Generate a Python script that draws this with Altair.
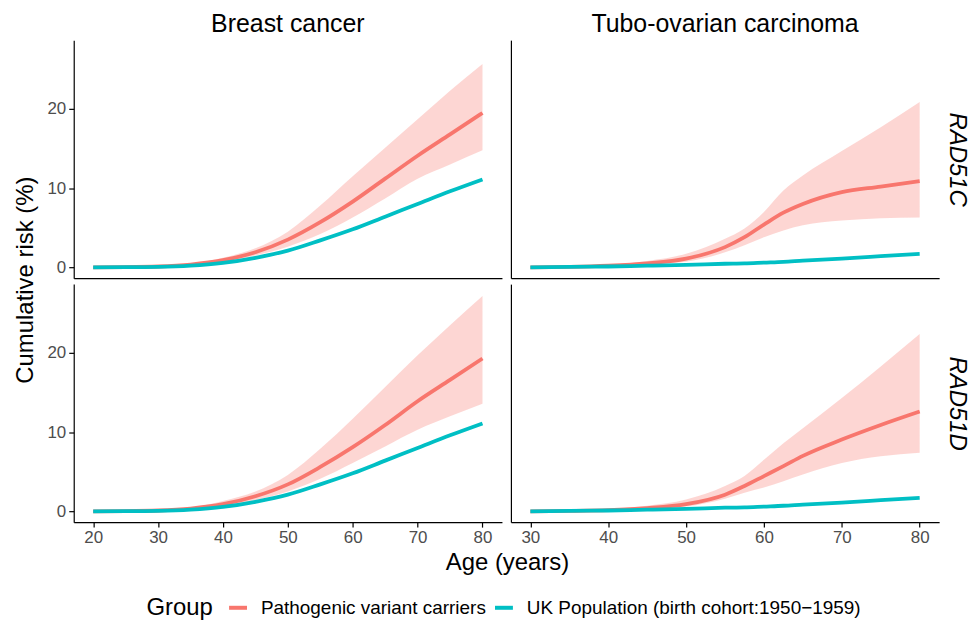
import altair as alt
import pandas as pd

# ---------------- data ----------------
ages_breast = [20, 25, 30, 35, 40, 45, 50, 55, 60, 65, 70, 75, 80]
ages_tubo = [30, 35, 40, 45, 50, 55, 57.5, 60, 62.5, 65, 70, 75, 80]

groups = ["Pathogenic variant carriers", "UK Population (birth cohort:1950\u22121959)"]
colors = ["#F8766D", "#00BFC4"]

# Breast cancer, UK population (same in both rows)
breast_pop = [0, 0.01, 0.05, 0.2, 0.55, 1.2, 2.1, 3.4, 4.8, 6.4, 8.0, 9.6, 11.1]
# Tubo-ovarian carcinoma, UK population
tubo_pop = [0, 0.05, 0.1, 0.2, 0.3, 0.45, 0.5, 0.6, 0.7, 0.85, 1.1, 1.4, 1.7]

# RAD51C - breast
bc_c_mean = [0, 0.02, 0.1, 0.35, 0.9, 1.9, 3.5, 5.7, 8.3, 11.2, 14.1, 16.8, 19.5]
bc_c_upper = [0, 0.03, 0.12, 0.45, 1.2, 2.4, 4.5, 7.8, 11.5, 15.1, 18.7, 22.3, 25.7]
bc_c_lower = [0, 0.01, 0.08, 0.28, 0.7, 1.5, 2.6, 4.2, 6.3, 8.7, 11.2, 13.0, 14.8]

# RAD51D - breast
bc_d_mean = [0, 0.02, 0.1, 0.35, 0.9, 1.9, 3.4, 5.6, 8.1, 10.9, 13.9, 16.6, 19.3]
bc_d_upper = [0, 0.03, 0.12, 0.45, 1.3, 2.5, 4.6, 7.9, 11.7, 15.7, 19.7, 23.5, 27.2]
bc_d_lower = [0, 0.01, 0.08, 0.28, 0.6, 1.4, 2.5, 4.1, 6.1, 8.2, 10.3, 12.0, 13.6]

# RAD51C - tubo-ovarian
oc_c_mean = [0, 0.05, 0.2, 0.5, 1.1, 2.55, 3.8, 5.4, 6.9, 8.0, 9.5, 10.2, 10.9]
oc_c_upper = [0, 0.08, 0.3, 0.8, 1.7, 3.6, 4.9, 7.0, 9.7, 11.6, 14.7, 17.7, 20.9]
oc_c_lower = [0, 0.03, 0.12, 0.35, 0.7, 1.9, 2.8, 3.8, 4.65, 5.3, 5.9, 6.2, 6.3]

# RAD51D - tubo-ovarian
oc_d_mean = [0, 0.05, 0.15, 0.4, 0.9, 2.1, 3.2, 4.45, 5.7, 7.0, 9.06, 10.9, 12.6]
oc_d_upper = [0, 0.08, 0.25, 0.7, 1.5, 3.2, 4.45, 6.5, 8.6, 10.5, 14.3, 18.3, 22.4]
oc_d_lower = [0, 0.03, 0.1, 0.25, 0.6, 1.6, 2.35, 3.0, 3.8, 4.65, 6.1, 6.95, 7.4]

breast_ticks = [20, 30, 40, 50, 60, 70, 80]
tubo_ticks = [30, 40, 50, 60, 70, 80]
y_ticks = [0, 10, 20]

FONT = "Liberation Sans"
W, H = 430, 239
Y_DOMAIN = [-1.37, 28.7]


def panel(ages, mean, lower, upper, pop, xdom, xticks, show_x, show_y,
          strip=None, row_label=None):
    rib = pd.DataFrame({"age": ages, "lower": lower, "upper": upper})
    n = len(ages)
    lines = pd.DataFrame({
        "age": list(ages) + list(ages),
        "risk": list(mean) + list(pop),
        "group": [groups[0]] * n + [groups[1]] * n,
    })
    xscale = alt.Scale(domain=xdom, nice=False, zero=False)
    yscale = alt.Scale(domain=Y_DOMAIN, nice=False, zero=False)
    if show_x:
        xaxis = alt.Axis(values=xticks, title=None, tickSize=5, labelPadding=2)
    else:
        xaxis = alt.Axis(labels=False, ticks=False, title=None)
    if show_y:
        yaxis = alt.Axis(values=y_ticks, title=None, tickSize=5, labelPadding=3)
    else:
        yaxis = alt.Axis(labels=False, ticks=False, title=None)

    area = alt.Chart(rib).mark_area(color="#F8766D", opacity=0.3,
                                    interpolate="monotone").encode(
        x=alt.X("age:Q", scale=xscale, axis=xaxis),
        y=alt.Y("lower:Q", scale=yscale, axis=yaxis),
        y2="upper:Q",
    )
    color = alt.Color("group:N",
                      scale=alt.Scale(domain=groups, range=colors),
                      legend=alt.Legend(title="Group"))
    if row_label:
        line_y = alt.Y("risk:Q", scale=yscale,
                       axis=alt.Axis(orient="right", labels=False, ticks=False,
                                     domain=False, title=row_label, titleAngle=90,
                                     titleFontStyle="italic", titleFontSize=24,
                                     titleFontWeight="normal", titleColor="black",
                                     titlePadding=5))
    else:
        line_y = alt.Y("risk:Q", scale=yscale, axis=yaxis)
    line = alt.Chart(lines).mark_line(strokeWidth=3.8, interpolate="monotone").encode(
        x=alt.X("age:Q", scale=xscale, axis=xaxis),
        y=line_y,
        color=color,
    )
    ch = alt.layer(area, line).properties(width=W, height=H)
    if row_label:
        ch = ch.resolve_scale(y="independent").resolve_axis(y="independent")
    if strip:
        ch = ch.properties(title=alt.TitleParams(strip, fontSize=25, fontWeight="normal",
                                                 anchor="middle", offset=3, color="black"))
    return ch


tl = panel(ages_breast, bc_c_mean, bc_c_lower, bc_c_upper, breast_pop,
           [17, 83], breast_ticks, False, True, strip="Breast cancer")
tr = panel(ages_tubo, oc_c_mean, oc_c_lower, oc_c_upper, tubo_pop,
           [27.5, 82.5], tubo_ticks, False, False, strip="Tubo-ovarian carcinoma",
           row_label="RAD51C")
bl = panel(ages_breast, bc_d_mean, bc_d_lower, bc_d_upper, breast_pop,
           [17, 83], breast_ticks, True, True)
br = panel(ages_tubo, oc_d_mean, oc_d_lower, oc_d_upper, tubo_pop,
           [27.5, 82.5], tubo_ticks, True, False, row_label="RAD51D")

row1 = alt.hconcat(tl, tr, spacing=9)
row2 = alt.hconcat(bl, br, spacing=9).properties(
    title=alt.TitleParams("Age (years)", orient="bottom", anchor="middle",
                          fontSize=24, fontWeight="normal", offset=6, color="black"))

chart = alt.vconcat(row1, row2, spacing=6).properties(
    title=alt.TitleParams("Cumulative risk (%)", orient="left", anchor="middle",
                          fontSize=24, fontWeight="normal", offset=9, dx=36,
                          color="black")
).configure(
    font=FONT, padding={"left": 6, "top": 3, "right": 3, "bottom": 0}
).configure_view(stroke=None).configure_axis(
    grid=False, domainColor="black", domainWidth=1.2, tickColor="black",
    tickWidth=1.2, labelColor="#4D4D4D", labelFontSize=17, labelFont=FONT,
).configure_legend(
    orient="none", legendX=73, legendY=559, direction="horizontal",
    titleOrient="left", titleFontSize=24, titleFontWeight="normal",
    titleColor="black", labelFontSize=19, labelColor="black", labelLimit=0,
    symbolType="stroke", symbolStrokeWidth=4, symbolSize=324,
    titlePadding=14, labelOffset=12, columnPadding=1,
)

chart.save("out.html", embed_options={"renderer": "svg", "actions": False})
